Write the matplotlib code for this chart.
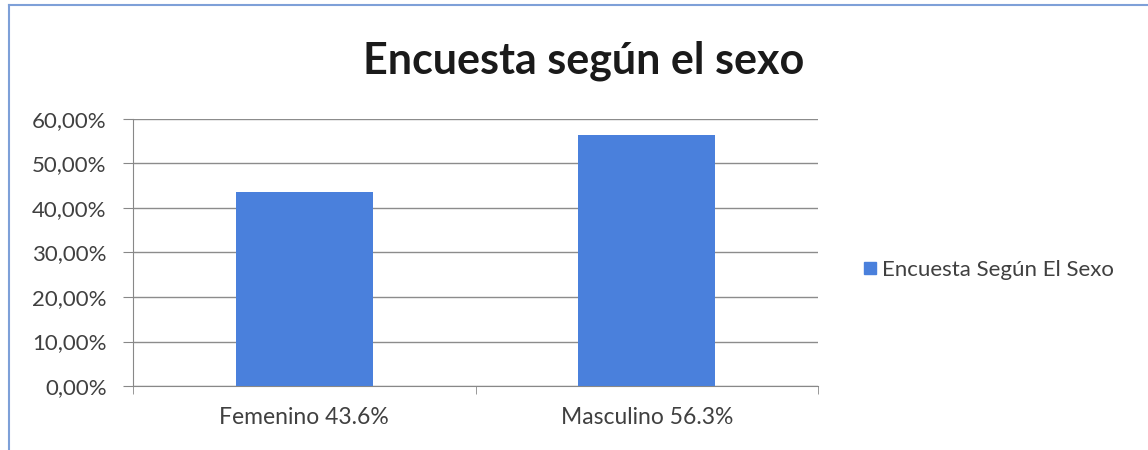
import matplotlib
matplotlib.use("Agg")
import matplotlib.pyplot as plt
from matplotlib.lines import Line2D

# datos
categorias = ["Femenino 43.6%", "Masculino 56.3%"]
valores = [43.6, 56.3]
yticks = [0, 10, 20, 30, 40, 50, 60]
titulo = "Encuesta según el sexo"
serie = "Encuesta Según El Sexo"

plt.rcParams["font.family"] = ["Lato", "DejaVu Sans"]
color_barra = "#4a80dc"
gris = "#404040"

fig = plt.figure(figsize=(11.48, 4.5), dpi=100)
ax = fig.add_axes([0.1159, 0.1422, 0.5966, 0.5934])

xs = list(range(len(categorias)))
ax.bar(xs, valores, width=0.4, color=color_barra, zorder=3)

ax.set_xlim(-0.5, len(categorias) - 0.5)
ax.set_ylim(0, 60)
ax.set_yticks(yticks)
ax.set_yticklabels([f"{v:.2f}%".replace(".", ",") for v in yticks], fontsize=16, color=gris)
ax.set_xticks(xs)
ax.set_xticklabels(categorias, fontsize=16.5, color=gris)
ax.tick_params(axis="x", length=0, pad=15)
ax.set_xticks([-0.5, 0.5, 1.5], minor=True)
ax.tick_params(axis="x", which="minor", length=6, color="#888888")
ax.tick_params(axis="y", length=7, color="#888888", pad=12)

ax.grid(axis="y", color="#8c8c8c", linewidth=1.0, zorder=0)
for s in ["top", "right"]:
    ax.spines[s].set_visible(False)
ax.spines["left"].set_color("#888888")
ax.spines["bottom"].set_color("#888888")

fig.text(0.508, 0.865, titulo, ha="center", va="center", fontsize=31, fontweight="bold", color="#1a1a1a")

# leyenda
handle = Line2D([], [], marker="s", linestyle="none", markersize=9, color=color_barra)
fig.legend([handle], [serie], loc="center left", bbox_to_anchor=(0.752, 0.40),
           frameon=False, fontsize=16, labelcolor=gris, handletextpad=0.25,
           handlelength=0.6, borderpad=0, borderaxespad=0)

# marco
fig.add_artist(Line2D([0.0078, 0.0078], [0, 0.989], color="#7ea0d8", linewidth=1.5))
fig.add_artist(Line2D([0.0078, 1], [0.989, 0.989], color="#7ea0d8", linewidth=1.5))

fig.savefig("out.png", dpi=100)
